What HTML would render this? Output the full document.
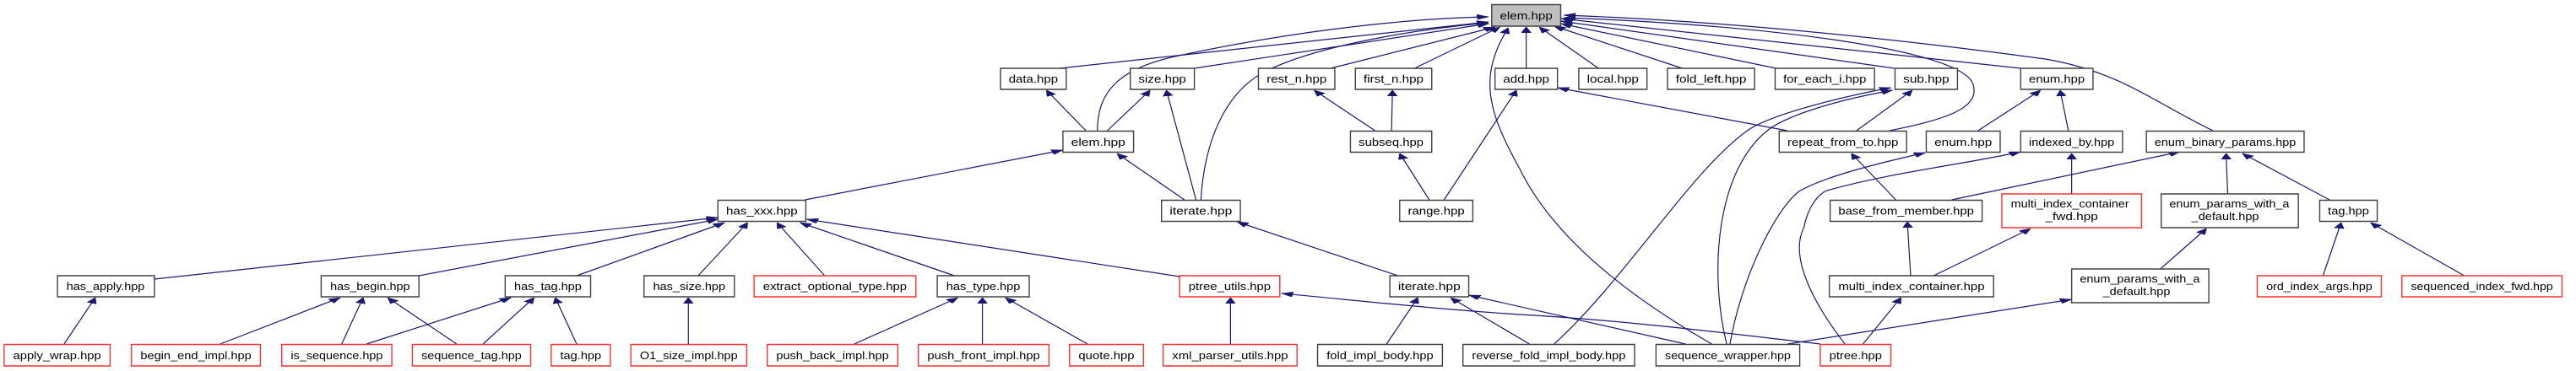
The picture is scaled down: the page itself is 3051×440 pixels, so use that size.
<!DOCTYPE html>
<html><head><meta charset="utf-8"><style>
html,body{margin:0;padding:0;background:#fff;}
svg{display:block;}
text{font-family:"Liberation Sans",sans-serif;font-size:12.5px;fill:#000;}
.b{fill:#fff;stroke:#404040;stroke-width:1.4;vector-effect:non-scaling-stroke;}
.r{fill:#fff;stroke:#ff3030;stroke-width:1.4;vector-effect:non-scaling-stroke;}
.g{fill:#bfbfbf;stroke:#404040;stroke-width:1.4;vector-effect:non-scaling-stroke;}
.e{fill:none;stroke:#191970;stroke-width:1.2;vector-effect:non-scaling-stroke;marker-end:url(#a);}
</style></head><body>
<svg width="3051" height="440" viewBox="0 0 1568 440" preserveAspectRatio="none" xmlns="http://www.w3.org/2000/svg">
<defs><marker id="a" markerUnits="userSpaceOnUse" markerWidth="7" markerHeight="6" viewBox="0 0 7 6" refX="7" refY="3" orient="auto"><path d="M0,0 L7,3 L0,6 z" fill="#191970" stroke="#191970" stroke-width="0.5"/></marker></defs>

<!-- edges -->
<path class="e" d="M645,81 L906,26"/>
<path class="e" d="M727,81 L906,28"/>
<path class="e" d="M810,81 L910,32"/>
<path class="e" d="M861,81 L913,32"/>
<path class="e" d="M929,81 L929,32"/>
<path class="e" d="M973,81 L937,32"/>
<path class="e" d="M1024,81 L946,31"/>
<path class="e" d="M1081,81 L950,28"/>
<path class="e" d="M1153,81 L950,25"/>
<path class="e" d="M1230,81 L950,22"/>
<path class="e" d="M1347,155 C1310,120 1290,85 1245,70 C1150,45 1050,25 952,18"/>
<path class="e" d="M1150,155 C1190,140 1205,125 1201,100 C1195,60 1080,30 952,21"/>
<path class="e" d="M1042,408 C990,350 945,280 925,200 C905,130 900,90 918,33"/>
<path class="e" d="M668,155 C668,110 680,80 720,65 C780,40 850,22 906,20"/>
<path class="e" d="M731,237 C733,170 745,110 770,85 C800,55 860,35 906,27"/>
<path class="e" d="M661,155 L637,107"/>
<path class="e" d="M674,155 L700,107"/>
<path class="e" d="M728,237 L710,107"/>
<path class="e" d="M490,237 L647,178"/>
<path class="e" d="M721,237 L680,182"/>
<path class="e" d="M837,155 L800,107"/>
<path class="e" d="M847,155 L847.6,107"/>
<path class="e" d="M870,237 L852,182"/>
<path class="e" d="M879,237 L923,107"/>
<path class="e" d="M1088,155 L948,104"/>
<path class="e" d="M1130,155 L1164,107"/>
<path class="e" d="M1204,155 L1242,107"/>
<path class="e" d="M1259,155 L1254,107"/>
<path class="e" d="M1154,237 L1127,182"/>
<path class="e" d="M1261,230 L1261,182"/>
<path class="e" d="M1356,230 L1355,182"/>
<path class="e" d="M1418,237 L1365,182"/>
<path class="e" d="M1188,237 L1327,180"/>
<path class="e" d="M946,408 C990,330 1030,200 1065,153 C1080,135 1120,115 1151,104"/>
<path class="e" d="M1051,408 C1040,320 1045,200 1077,153 C1090,135 1120,118 1152,107"/>
<path class="e" d="M1053,408 C1060,330 1080,250 1095,227 C1110,210 1140,195 1172,181"/>
<path class="e" d="M1123,408 C1100,350 1090,300 1098,270 C1100,250 1105,232 1112,226 C1150,205 1195,195 1230,180"/>
<path class="e" d="M94,331 L437,258"/>
<path class="e" d="M255,327 L437,260"/>
<path class="e" d="M351,327 L441,264"/>
<path class="e" d="M425,327 L455,264"/>
<path class="e" d="M502,327 L473,264"/>
<path class="e" d="M581,327 L487,264"/>
<path class="e" d="M718,328 L491,260"/>
<path class="e" d="M851,327 L753,263"/>
<path class="e" d="M1177,327 L1236,271"/>
<path class="e" d="M1163,327 L1161,263"/>
<path class="e" d="M1315,319 L1343,271"/>
<path class="e" d="M1414,327 L1425,264"/>
<path class="e" d="M1500,327 L1443,264"/>
<path class="e" d="M39,408 L58,353"/>
<path class="e" d="M134,408 L207,353"/>
<path class="e" d="M208,408 L221,353"/>
<path class="e" d="M278,408 L236,353"/>
<path class="e" d="M223,408 L311,353"/>
<path class="e" d="M294,408 L325,353"/>
<path class="e" d="M351,408 L338,353"/>
<path class="e" d="M419,408 L419,353"/>
<path class="e" d="M520,408 L583,353"/>
<path class="e" d="M598,408 L598,353"/>
<path class="e" d="M662,408 L612,353"/>
<path class="e" d="M749,408 L749,353"/>
<path class="e" d="M844,408 L863,353"/>
<path class="e" d="M931,408 L883,353"/>
<path class="e" d="M1026,408 L894,350"/>
<path class="e" d="M1108,408 C1050,395 990,380 925,373 C870,366 820,355 780,348"/>
<path class="e" d="M1088,408 L1261,355"/>
<path class="e" d="M1134,408 L1157,353"/>

<!-- nodes -->
<rect class="g" x="908" y="5.5" width="42" height="25.5"/><text x="913" y="23" textLength="32" lengthAdjust="spacingAndGlyphs">elem.hpp</text>

<rect class="b" x="609" y="81" width="40" height="25"/><text x="614" y="98" textLength="30" lengthAdjust="spacingAndGlyphs">data.hpp</text>
<rect class="b" x="688" y="81" width="39" height="25"/><text x="693" y="98" textLength="29" lengthAdjust="spacingAndGlyphs">size.hpp</text>
<rect class="b" x="766" y="81" width="46.5" height="25"/><text x="771" y="98" textLength="36.5" lengthAdjust="spacingAndGlyphs">rest_n.hpp</text>
<rect class="b" x="825" y="81" width="46.5" height="25"/><text x="830" y="98" textLength="36.5" lengthAdjust="spacingAndGlyphs">first_n.hpp</text>
<rect class="b" x="910" y="81" width="38" height="25"/><text x="915" y="98" textLength="28" lengthAdjust="spacingAndGlyphs">add.hpp</text>
<rect class="b" x="961" y="81" width="41.5" height="25"/><text x="966" y="98" textLength="31.5" lengthAdjust="spacingAndGlyphs">local.hpp</text>
<rect class="b" x="1015" y="81" width="53" height="25"/><text x="1020" y="98" textLength="43" lengthAdjust="spacingAndGlyphs">fold_left.hpp</text>
<rect class="b" x="1080.5" y="81" width="60.5" height="25"/><text x="1085.5" y="98" textLength="50.5" lengthAdjust="spacingAndGlyphs">for_each_i.hpp</text>
<rect class="b" x="1153.5" y="81" width="38" height="25"/><text x="1158.5" y="98" textLength="28" lengthAdjust="spacingAndGlyphs">sub.hpp</text>
<rect class="b" x="1230" y="81" width="44" height="25"/><text x="1235" y="98" textLength="34" lengthAdjust="spacingAndGlyphs">enum.hpp</text>

<rect class="b" x="647" y="155.5" width="43" height="25"/><text x="652" y="173" textLength="33" lengthAdjust="spacingAndGlyphs">elem.hpp</text>
<rect class="b" x="822" y="155.5" width="49.5" height="25"/><text x="827" y="173" textLength="39.5" lengthAdjust="spacingAndGlyphs">subseq.hpp</text>
<rect class="b" x="1083" y="155.5" width="77.5" height="25"/><text x="1088" y="173" textLength="67.5" lengthAdjust="spacingAndGlyphs">repeat_from_to.hpp</text>
<rect class="b" x="1172.5" y="155.5" width="45" height="25"/><text x="1177.5" y="173" textLength="35" lengthAdjust="spacingAndGlyphs">enum.hpp</text>
<rect class="b" x="1230" y="155.5" width="62" height="25"/><text x="1235" y="173" textLength="52" lengthAdjust="spacingAndGlyphs">indexed_by.hpp</text>
<rect class="b" x="1306.5" y="155.5" width="96" height="25"/><text x="1311.5" y="173" textLength="86" lengthAdjust="spacingAndGlyphs">enum_binary_params.hpp</text>

<rect class="b" x="437" y="237.5" width="53.5" height="25"/><text x="442" y="254.5" textLength="43.5" lengthAdjust="spacingAndGlyphs">has_xxx.hpp</text>
<rect class="b" x="707" y="237.5" width="48" height="25"/><text x="712" y="254.5" textLength="38" lengthAdjust="spacingAndGlyphs">iterate.hpp</text>
<rect class="b" x="852" y="237.5" width="44.5" height="25"/><text x="857" y="254.5" textLength="34.5" lengthAdjust="spacingAndGlyphs">range.hpp</text>
<rect class="b" x="1114" y="237.5" width="92.5" height="25"/><text x="1119" y="254.5" textLength="82.5" lengthAdjust="spacingAndGlyphs">base_from_member.hpp</text>
<rect class="r" x="1218.5" y="230" width="85" height="40"/><text x="1224" y="246" textLength="72" lengthAdjust="spacingAndGlyphs">multi_index_container</text><text x="1245" y="261" textLength="32" lengthAdjust="spacingAndGlyphs">_fwd.hpp</text>
<rect class="b" x="1315.5" y="230" width="83.5" height="40"/><text x="1320.5" y="246" textLength="73" lengthAdjust="spacingAndGlyphs">enum_params_with_a</text><text x="1334" y="261" textLength="41" lengthAdjust="spacingAndGlyphs">_default.hpp</text>
<rect class="b" x="1412" y="237.5" width="35" height="25"/><text x="1417" y="254.5" textLength="25" lengthAdjust="spacingAndGlyphs">tag.hpp</text>

<rect class="b" x="35" y="327" width="59" height="25"/><text x="40.5" y="344" textLength="47.5" lengthAdjust="spacingAndGlyphs">has_apply.hpp</text>
<rect class="b" x="195.5" y="327" width="59.5" height="25"/><text x="201" y="344" textLength="48.5" lengthAdjust="spacingAndGlyphs">has_begin.hpp</text>
<rect class="b" x="307.5" y="327" width="52" height="25"/><text x="313" y="344" textLength="41" lengthAdjust="spacingAndGlyphs">has_tag.hpp</text>
<rect class="b" x="392" y="327" width="55" height="25"/><text x="397.5" y="344" textLength="44" lengthAdjust="spacingAndGlyphs">has_size.hpp</text>
<rect class="r" x="459" y="327" width="98.5" height="25"/><text x="464.5" y="344" textLength="87.5" lengthAdjust="spacingAndGlyphs">extract_optional_type.hpp</text>
<rect class="b" x="570.5" y="327" width="56" height="25"/><text x="576" y="344" textLength="45" lengthAdjust="spacingAndGlyphs">has_type.hpp</text>
<rect class="r" x="718" y="327" width="61" height="25"/><text x="723.5" y="344" textLength="50" lengthAdjust="spacingAndGlyphs">ptree_utils.hpp</text>
<rect class="b" x="846" y="327" width="48" height="25"/><text x="851" y="344" textLength="38" lengthAdjust="spacingAndGlyphs">iterate.hpp</text>
<rect class="b" x="1113.5" y="327" width="100" height="25"/><text x="1119" y="344" textLength="89" lengthAdjust="spacingAndGlyphs">multi_index_container.hpp</text>
<rect class="b" x="1261" y="319" width="83.5" height="40"/><text x="1266" y="335" textLength="73" lengthAdjust="spacingAndGlyphs">enum_params_with_a</text><text x="1280" y="350" textLength="41" lengthAdjust="spacingAndGlyphs">_default.hpp</text>
<rect class="r" x="1374" y="327" width="75.5" height="25"/><text x="1379.5" y="344" textLength="64.5" lengthAdjust="spacingAndGlyphs">ord_index_args.hpp</text>
<rect class="r" x="1462" y="327" width="97.5" height="25"/><text x="1467.5" y="344" textLength="86.5" lengthAdjust="spacingAndGlyphs">sequenced_index_fwd.hpp</text>

<rect class="r" x="2.5" y="408.5" width="64.5" height="25.5"/><text x="8" y="426" textLength="53.5" lengthAdjust="spacingAndGlyphs">apply_wrap.hpp</text>
<rect class="r" x="80" y="408.5" width="78.5" height="25.5"/><text x="85.5" y="426" textLength="67.5" lengthAdjust="spacingAndGlyphs">begin_end_impl.hpp</text>
<rect class="r" x="171.5" y="408.5" width="67" height="25.5"/><text x="177" y="426" textLength="56" lengthAdjust="spacingAndGlyphs">is_sequence.hpp</text>
<rect class="r" x="251" y="408.5" width="72" height="25.5"/><text x="256.5" y="426" textLength="61" lengthAdjust="spacingAndGlyphs">sequence_tag.hpp</text>
<rect class="r" x="335.5" y="408.5" width="36" height="25.5"/><text x="341" y="426" textLength="25" lengthAdjust="spacingAndGlyphs">tag.hpp</text>
<rect class="r" x="384" y="408.5" width="70.5" height="25.5"/><text x="389.5" y="426" textLength="59.5" lengthAdjust="spacingAndGlyphs">O1_size_impl.hpp</text>
<rect class="r" x="467" y="408.5" width="79.5" height="25.5"/><text x="472.5" y="426" textLength="68.5" lengthAdjust="spacingAndGlyphs">push_back_impl.hpp</text>
<rect class="r" x="559" y="408.5" width="79.5" height="25.5"/><text x="564.5" y="426" textLength="68.5" lengthAdjust="spacingAndGlyphs">push_front_impl.hpp</text>
<rect class="r" x="651" y="408.5" width="45" height="25.5"/><text x="656.5" y="426" textLength="34" lengthAdjust="spacingAndGlyphs">quote.hpp</text>
<rect class="r" x="708" y="408.5" width="81.5" height="25.5"/><text x="713.5" y="426" textLength="70.5" lengthAdjust="spacingAndGlyphs">xml_parser_utils.hpp</text>
<rect class="b" x="802" y="408.5" width="76" height="25.5"/><text x="807.5" y="426" textLength="65" lengthAdjust="spacingAndGlyphs">fold_impl_body.hpp</text>
<rect class="b" x="890.5" y="408.5" width="104.5" height="25.5"/><text x="896" y="426" textLength="93.5" lengthAdjust="spacingAndGlyphs">reverse_fold_impl_body.hpp</text>
<rect class="b" x="1008" y="408.5" width="87.5" height="25.5"/><text x="1013.5" y="426" textLength="76.5" lengthAdjust="spacingAndGlyphs">sequence_wrapper.hpp</text>
<rect class="r" x="1108" y="408.5" width="43" height="25.5"/><text x="1113.5" y="426" textLength="32" lengthAdjust="spacingAndGlyphs">ptree.hpp</text>
</svg>
</body></html>
